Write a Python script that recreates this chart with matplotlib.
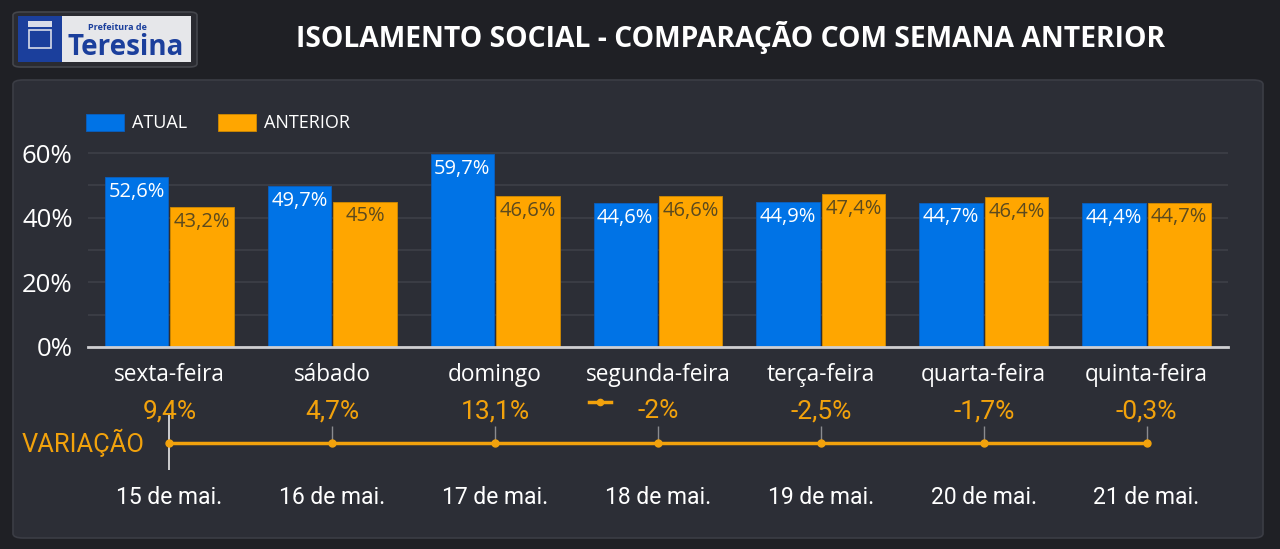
import numpy as np
import matplotlib
matplotlib.use('Agg')
import matplotlib.pyplot as plt
from matplotlib.patches import FancyBboxPatch, Rectangle
from matplotlib.lines import Line2D

dias = ['sexta-feira', 'sábado', 'domingo', 'segunda-feira', 'terça-feira', 'quarta-feira', 'quinta-feira']
datas = ['15 de mai.', '16 de mai.', '17 de mai.', '18 de mai.', '19 de mai.', '20 de mai.', '21 de mai.']
atual = [52.6, 49.7, 59.7, 44.6, 44.9, 44.7, 44.4]
anterior = [43.2, 45.0, 46.6, 46.6, 47.4, 46.4, 44.7]
variacao = [9.4, 4.7, 13.1, -2.0, -2.5, -1.7, -0.3]

AZUL = '#0073e6'
LARANJA = '#ffa600'
LINHA = '#f2a20c'
FUNDO = '#1f2025'
PAINEL = '#2c2e36'
W, H = 1280, 549

OPEN = ['Open Sans', 'DejaVu Sans']
ESTREITA = ['Roboto', 'DejaVu Sans']
plt.rcParams['font.family'] = OPEN


def fmt(v):
    s = ('%.1f' % v).rstrip('0').rstrip('.')
    return s.replace('.', ',') + '%'


def px(x0, y0, x1, y1):
    # caixa em pixels (origem no topo) -> fração da figura
    return [x0 / W, 1 - y1 / H, (x1 - x0) / W, (y1 - y0) / H]


fig = plt.figure(figsize=(12.8, 5.49), dpi=100, facecolor=FUNDO)

# painel de fundo
b = px(13, 80, 1263, 538)
fig.add_artist(FancyBboxPatch((b[0], b[1]), b[2], b[3], boxstyle='round,pad=0,rounding_size=0.008',
                              transform=fig.transFigure, fc=PAINEL, ec='#3b3d45', lw=1.2, zorder=0))

# logotipo
b = px(13, 12, 197, 67)
fig.add_artist(FancyBboxPatch((b[0], b[1]), b[2], b[3], boxstyle='round,pad=0,rounding_size=0.006',
                              transform=fig.transFigure, fc='#2a2b31', ec='#44464c', lw=1.2))
b = px(18, 16, 191, 62)
fig.add_artist(Rectangle((b[0], b[1]), b[2], b[3], transform=fig.transFigure, fc='#e6e7ea', ec='none'))
b = px(18, 16, 62, 62)
fig.add_artist(Rectangle((b[0], b[1]), b[2], b[3], transform=fig.transFigure, fc='#1b3f9c', ec='none'))
b = px(29, 30, 51, 48)
fig.add_artist(Rectangle((b[0], b[1]), b[2], b[3], transform=fig.transFigure, fc='none', ec='#d8dce8', lw=1.2))
b = px(28, 21, 52, 27)
fig.add_artist(Rectangle((b[0], b[1]), b[2], b[3], transform=fig.transFigure, fc='#d8dce8', ec='none'))
fig.text(88 / W, 1 - 30.5 / H, 'Prefeitura de', color='#1b3f9c', fontsize=6.5, fontweight='bold',
         va='baseline', ha='left')
fig.text(68 / W, 1 - 55 / H, 'Teresina', color='#1b3f9c', fontsize=20, fontweight='bold',
         va='baseline', ha='left')

# título
fig.text(731 / W, 1 - 37 / H, 'ISOLAMENTO SOCIAL - COMPARAÇÃO COM SEMANA ANTERIOR', color='white',
         fontsize=20.3, fontweight='bold', ha='center', va='center')

# barras
ax = fig.add_axes(px(88, 146.6, 1228, 347))
ax.set_facecolor('none')
x = np.arange(len(dias))
larg = 0.39
b1 = ax.bar(x - larg / 2 - 0.006, atual, larg, color=AZUL, ec='#0a5fc0', lw=0.6, label='ATUAL', zorder=3)
b2 = ax.bar(x + larg / 2 + 0.006, anterior, larg, color=LARANJA, ec='#d08a00', lw=0.6, label='ANTERIOR', zorder=3)
for r, v in zip(b1, atual):
    ax.annotate(fmt(v), (r.get_x() + r.get_width() / 2, v), xytext=(0, -3.5), textcoords='offset points',
                ha='center', va='top', color='white', fontsize=14.5, zorder=4)
for r, v in zip(b2, anterior):
    ax.annotate(fmt(v), (r.get_x() + r.get_width() / 2, v), xytext=(0, -3.5), textcoords='offset points',
                ha='center', va='top', color='#5c4a1e', fontsize=14.5, zorder=4)

ax.set_xlim(-0.5, len(dias) - 0.5)
ax.set_ylim(0, 62)
ax.set_yticks([0, 10, 20, 30, 40, 50, 60])
ax.set_yticklabels(['0%', '', '20%', '', '40%', '', '60%'])
ax.grid(axis='y', color='#3d3f48', lw=1.2, zorder=0)
ax.set_xticks(x)
ax.set_xticklabels(dias)
ax.tick_params(axis='x', length=0, pad=11.5, labelsize=16.3, labelcolor='white')
ax.tick_params(axis='y', length=0, pad=11, labelsize=18.5, labelcolor='white')
for s in ['top', 'right', 'left']:
    ax.spines[s].set_visible(False)
ax.spines['bottom'].set_color('#cfcfd2')
ax.spines['bottom'].set_linewidth(2)
ax.spines['bottom'].set_zorder(5)

leg = ax.legend(loc='lower left', bbox_to_anchor=(-0.016, 0.99), ncol=2, frameon=False,
                handlelength=2.1, handleheight=1.05, handletextpad=0.45, columnspacing=1.7,
                prop={'size': 13}, labelcolor='white')

# linha de variação
ax2 = fig.add_axes(px(88, 413, 1228, 473))
ax2.set_facecolor('none')
ax2.set_xlim(ax.get_xlim())
ax2.set_ylim(-1, 1)
base = np.zeros(len(variacao))
ax2.vlines(x[1:], 0, 0.57, color='#8a8b90', lw=1, zorder=2)
ax2.vlines(x[0], -0.9, 0.93, color='#e8e8e8', lw=1.2, zorder=2)
ax2.plot(x, base, color=LINHA, lw=2.5, marker='o', ms=5, zorder=3)
for xi, v in zip(x, variacao):
    ax2.annotate(fmt(v), (xi, 0), xytext=(0, 23), textcoords='offset points', ha='center', va='center',
                 color=LINHA, fontsize=19, family=ESTREITA)
ax2.set_xticks(x)
ax2.set_xticklabels(datas, family=ESTREITA)
ax2.tick_params(axis='x', length=0, pad=9, labelsize=16.5, labelcolor='white')
ax2.set_yticks([])
for s in ax2.spines.values():
    s.set_visible(False)

fig.text(22 / W, 1 - 443 / H, 'VARIAÇÃO', color=LINHA, fontsize=18.4, ha='left', va='center', family=ESTREITA)
fig.add_artist(Line2D([589 / W, 611 / W], [1 - 402 / H, 1 - 402 / H], transform=fig.transFigure,
                      color=LINHA, lw=2.5))
fig.add_artist(Line2D([600 / W], [1 - 402 / H], transform=fig.transFigure, color=LINHA, marker='o', ms=4.5))

fig.savefig('out.png', dpi=100, facecolor=FUNDO)
